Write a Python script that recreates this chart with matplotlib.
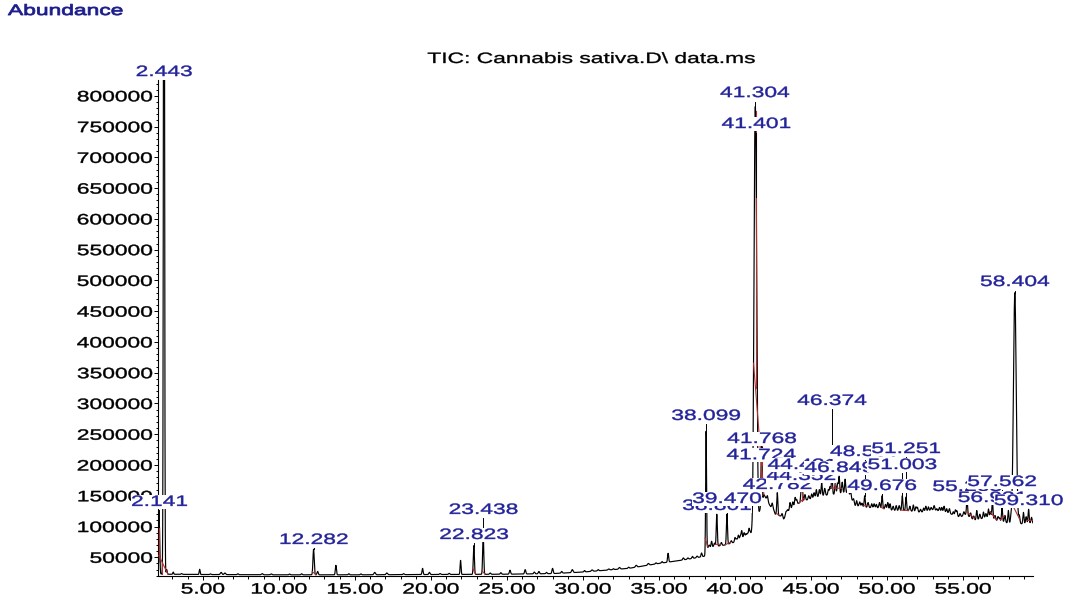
import numpy as np
import matplotlib
matplotlib.use("Agg")
import matplotlib.pyplot as plt
from matplotlib.patheffects import AbstractPathEffect
from matplotlib.transforms import Affine2D
from matplotlib.ticker import MultipleLocator, FormatStrFormatter

# ---------------------------------------------------------------- data
# slowly varying TIC baseline (retention time / min, abundance)
base_rt = [2.09, 2.6, 5.0, 10.0, 15.0, 20.0, 25.0, 28.0, 30.0, 33.0, 35.0,
           36.4, 37.3, 38.05, 38.2, 38.8, 39.35, 39.9, 40.55, 41.2, 41.9,
           42.3, 42.65, 43.0, 43.2, 43.6, 44.2, 44.7, 45.4, 46.0, 46.7,
           47.35, 47.65, 47.9, 48.7, 49.5, 50.4, 51.3, 52.2, 53.0, 53.9,
           54.8, 55.2, 55.7, 56.6, 57.2, 58.1, 59.0, 59.62]
base_abund = [23000, 22500, 22000, 21500, 21500, 22000, 22500, 23500, 26000,
              32000, 40000, 45000, 48500, 52000, 65500, 68000, 70000, 74000,
              82000, 85000, 152000, 134000, 120000, 117000, 112000, 128000,
              138000, 143000, 148000, 151000, 153000, 155000, 145000, 134000,
              131000, 130000, 126000, 126000, 123000, 127000, 123000, 115000,
              120000, 110000, 115000, 110000, 104500, 104500, 105500]

# detected peaks: retention time, apex abundance, gaussian width (min)
peak_rt = [2.141, 2.443, 2.62, 3.05, 4.79, 6.2, 6.45, 8.9, 12.282, 12.55,
           13.75, 16.3, 17.1, 19.45, 19.9, 21.95, 22.823, 23.438, 25.2, 26.2,
           27.1, 28.0, 29.3, 30.6, 31.7, 32.4, 33.5, 34.3, 35.6, 36.6, 37.2,
           37.8, 38.099, 38.46, 38.801, 39.470, 40.0, 40.22, 40.44, 40.72,
           40.92, 41.1, 41.304, 41.401, 41.724, 41.768, 42.13, 42.782, 43.35,
           43.62, 43.95, 44.352, 44.421, 45.04, 45.35, 45.7, 46.14, 46.374,
           46.6, 46.849, 47.24, 47.45, 48.0, 48.53, 48.99, 49.3, 49.676, 50.2,
           50.6, 51.003, 51.251, 51.73, 52.0, 52.4, 52.72, 53.27, 53.6, 53.92,
           54.36, 54.6, 55.263, 55.9, 56.34, 56.67, 56.931, 57.3, 57.562,
           57.98, 58.404, 58.97, 59.310]
peak_apex = [100000, 1500000, 30000, 26000, 30500, 25500, 24500, 23500, 63000,
             27000, 37000, 25500, 24500, 32000, 25500, 45000, 69000, 90000,
             29000, 30000, 27000, 32000, 30000, 29500, 31000, 33500, 37000,
             40000, 56500, 49000, 51500, 57000, 255000, 76000, 120000, 120000,
             82000, 86000, 93000, 88000, 96000, 90000, 660000, 420000, 205000,
             212000, 150000, 155000, 124000, 139000, 147000, 160000, 165000,
             153000, 160000, 171000, 160000, 185000, 172000, 181000, 177000,
             170000, 142000, 150000, 137000, 136000, 150000, 137000, 134000,
             150000, 148000, 135000, 131000, 130000, 132000, 129000, 131000,
             129000, 124000, 125000, 145000, 126000, 123500, 128500, 142000,
             116000, 131000, 126000, 480000, 123000, 128000]
peak_sigma = [0.03, 0.035, 0.03, 0.03, 0.03, 0.05, 0.05, 0.05, 0.04, 0.04,
              0.035, 0.05, 0.05, 0.035, 0.04, 0.03, 0.035, 0.035, 0.04, 0.04,
              0.04, 0.04, 0.05, 0.05, 0.05, 0.05, 0.05, 0.05, 0.035, 0.04,
              0.04, 0.035, 0.03, 0.035, 0.035, 0.035, 0.035, 0.035, 0.035,
              0.035, 0.035, 0.035, 0.07, 0.06, 0.025, 0.025, 0.04, 0.035,
              0.04, 0.035, 0.035, 0.035, 0.035, 0.035, 0.035, 0.035, 0.035,
              0.035, 0.035, 0.035, 0.035, 0.035, 0.035, 0.035, 0.035, 0.035,
              0.035, 0.035, 0.035, 0.035, 0.035, 0.035, 0.035, 0.035, 0.035,
              0.035, 0.035, 0.035, 0.035, 0.035, 0.035, 0.035, 0.035, 0.035,
              0.035, 0.035, 0.035, 0.035, 0.09, 0.035, 0.035]

# small unresolved bumps along the baseline (retention time, apex abundance)
minor_rt = [3.6, 5.5, 7.3, 9.5, 10.7, 11.5, 14.6, 15.4, 18.2, 20.6, 21.2,
            23.9, 24.6, 26.8, 27.6, 28.6, 30.1, 31.0, 32.0, 33.0, 34.8, 35.2,
            36.9, 37.5, 38.3, 38.65, 39.1, 39.75, 40.1, 40.35, 40.6, 40.82,
            41.0, 42.45, 42.55, 43.1, 43.45, 43.8, 44.05, 44.6, 44.85, 45.2,
            45.55, 45.9, 46.25, 46.75, 47.05, 47.6, 47.8, 48.2, 48.35, 48.75,
            49.15, 49.5, 49.9, 50.05, 50.4, 50.8, 51.5, 51.9, 52.2, 52.55,
            52.9, 53.1, 53.45, 53.75, 54.1, 54.5, 54.8, 55.05, 55.5, 55.7,
            56.1, 56.5, 56.8, 57.1, 57.4, 57.75, 58.15, 58.7, 59.15, 59.5]
minor_apex = [23500, 23000, 23200, 23000, 22800, 23200, 23300, 23000, 23400,
              23600, 24000, 24500, 25000, 26000, 25500, 27000, 28500, 30000,
              31500, 34000, 41000, 43000, 49000, 52000, 70000, 73000, 74000,
              77000, 80000, 85000, 90000, 89000, 91000, 138000, 127000,
              121000, 127000, 140000, 144000, 152000, 150000, 155000, 160000,
              162000, 165000, 170000, 172000, 158000, 145000, 140000, 138000,
              139000, 137000, 139000, 136000, 139000, 133000, 134000, 133000,
              132000, 128000, 133000, 131000, 134000, 131000, 133000, 129000,
              127000, 121000, 124000, 122000, 117000, 120000, 121000, 124000,
              118000, 114000, 118000, 114000, 117000, 116000, 115000]

# annotated peaks (printed retention times), in drawing order
label_rt = [2.443, 2.141, 12.282, 23.438, 22.823, 38.099, 38.801, 39.470,
            41.304, 41.401, 41.724, 41.768, 42.782, 44.352, 44.421, 46.374,
            48.530, 46.849, 51.251, 51.003, 49.676, 55.263, 57.562, 58.404,
            56.931, 59.310]

# integration events (baseline segments and drop lines)
int_start = [2.10, 12.20, 22.76, 23.36, 38.04, 38.70, 39.36, 41.22, 42.70,
             44.20, 46.28, 48.45, 49.58, 50.90, 55.20, 56.80, 57.45, 58.20,
             59.20]
int_end = [2.70, 12.45, 22.92, 23.55, 38.22, 39.05, 39.70, 41.90, 42.90,
           44.55, 47.00, 48.70, 49.80, 51.40, 55.75, 57.20, 57.75, 58.75,
           59.55]
drop_rt = [2.145, 2.30, 41.35, 41.70, 41.745, 44.38, 46.60, 51.13]

# ------------------------------------------------------------- layout
# abundance level at which each retention-time label is printed
label_level = [838700, 140000, 78200, 127000, 86300, 279700, 133500, 144800,
               804500, 754200, 216000, 242300, 167600, 182200, 200000, 304100,
               221200, 195200, 226000, 200000, 165900, 164300, 172400, 497400,
               146400, 141500]

WIDE = 1.52
LABEL_BLUE = "#22229a"
TITLE_BLUE = "#1c1c8c"
RED = "#b03030"

plt.rcParams["font.family"] = ["Liberation Sans", "DejaVu Sans"]
plt.rcParams["font.size"] = 10.8


class Widen(AbstractPathEffect):
    """Draw a path stretched horizontally about its left, centre or right,
    optionally with a thin outline in the fill colour to thicken strokes."""

    def __init__(self, factor=WIDE, anchor="center", weight=0.0):
        super().__init__()
        self._factor = factor
        self._anchor = anchor
        self._weight = weight

    def draw_path(self, renderer, gc, tpath, affine, rgbFace=None):
        xs = tpath.vertices[:, 0]
        if len(xs) == 0:
            return
        if self._anchor == "left":
            a = xs.min()
        elif self._anchor == "right":
            a = xs.max()
        else:
            a = 0.5 * (xs.min() + xs.max())
        stretch = Affine2D().translate(-a, 0).scale(self._factor, 1).translate(a, 0)
        if self._weight > 0:
            gc0 = renderer.new_gc()
            gc0.copy_properties(gc)
            gc0.set_linewidth(self._weight)
            gc0.set_joinstyle("round")
            renderer.draw_path(gc0, tpath, stretch + affine, rgbFace)
            gc0.restore()
        else:
            renderer.draw_path(gc, tpath, stretch + affine, rgbFace)


# ------------------------------------------------------------ signal
t = np.arange(2.09, 59.62, 0.004)
signal = np.interp(t, base_rt, base_abund)
for rt, apex, sg in zip(peak_rt, peak_apex, peak_sigma):
    h = apex - np.interp(rt, base_rt, base_abund)
    signal = signal + h * np.exp(-0.5 * ((t - rt) / sg) ** 2)
for rt, apex in zip(minor_rt, minor_apex):
    h = apex - np.interp(rt, base_rt, base_abund)
    signal = signal + h * np.exp(-0.5 * ((t - rt) / 0.04) ** 2)


def sig(x):
    return float(np.interp(x, t, signal))


fig = plt.figure(figsize=(10.65, 6.07), dpi=100, facecolor="white")
ax = fig.add_axes([0.14836, 0.05107, 0.8216, 0.8171])

ax.plot(t, signal, color="black", lw=0.85, zorder=2)

# integration baselines and drop lines
for s, e in zip(int_start, int_end):
    ax.plot([s, e], [sig(s), sig(e)], color=RED, lw=0.8, zorder=3)
for d in drop_rt:
    for s, e in zip(int_start, int_end):
        if s <= d <= e:
            b = sig(s) + (sig(e) - sig(s)) * (d - s) / (e - s)
            ax.plot([d, d], [sig(d), b], color=RED, lw=0.8, zorder=3)
            break

ax.set_xlim(2.05, 59.6)
ax.set_ylim(19600, 825700)

for side in ("top", "right"):
    ax.spines[side].set_visible(False)
for side in ("left", "bottom"):
    ax.spines[side].set_linewidth(0.8)

ax.xaxis.set_major_locator(MultipleLocator(5))
ax.xaxis.set_minor_locator(MultipleLocator(1))
ax.xaxis.set_major_formatter(FormatStrFormatter("%.2f"))
ax.yaxis.set_major_locator(MultipleLocator(50000))
ax.yaxis.set_minor_locator(MultipleLocator(10000))
ax.yaxis.set_major_formatter(FormatStrFormatter("%d"))
ax.tick_params(axis="x", which="major", length=3.2, width=0.7, pad=1.5)
ax.tick_params(axis="x", which="minor", length=2.2, width=0.7)
ax.tick_params(axis="y", which="major", length=2.9, width=0.7, pad=0.5)
ax.tick_params(axis="y", which="minor", length=1.8, width=0.7)

for lab in ax.get_xticklabels():
    lab.set_path_effects([Widen(anchor="center", weight=0.3)])
for lab in ax.get_yticklabels():
    lab.set_path_effects([Widen(anchor="right", weight=0.3)])

# retention-time labels with leader lines to their apex
half_h = 13800
for rt, lv in zip(label_rt, label_level):
    top = sig(rt)
    if lv - half_h > top:
        ax.plot([rt, rt], [lv - half_h, top], color="black", lw=0.7,
                zorder=4, clip_on=False)
for i, (rt, lv) in enumerate(zip(label_rt, label_level)):
    txt = ax.text(rt, lv, f"{rt:.3f}", ha="center", va="center",
                  color=LABEL_BLUE, zorder=5 + i * 0.01, clip_on=False,
                  bbox=dict(boxstyle="square,pad=0", fc="white", ec="none"))
    txt.set_path_effects([Widen(anchor="center", weight=0.3)])
    txt.get_bbox_patch().set_path_effects([Widen(anchor="center")])

t1 = fig.text(8 / 1065, 1 - 11 / 607, "Abundance", ha="left", va="center",
              color=TITLE_BLUE)
t1.set_path_effects([Widen(anchor="left", weight=0.6)])
t2 = fig.text(591 / 1065, 1 - 59 / 607, r"TIC: Cannabis sativa.D\ data.ms",
              ha="center", va="center", color="black")
t2.set_path_effects([Widen(anchor="center", weight=0.25)])

fig.savefig("out.png", dpi=100, facecolor="white")
